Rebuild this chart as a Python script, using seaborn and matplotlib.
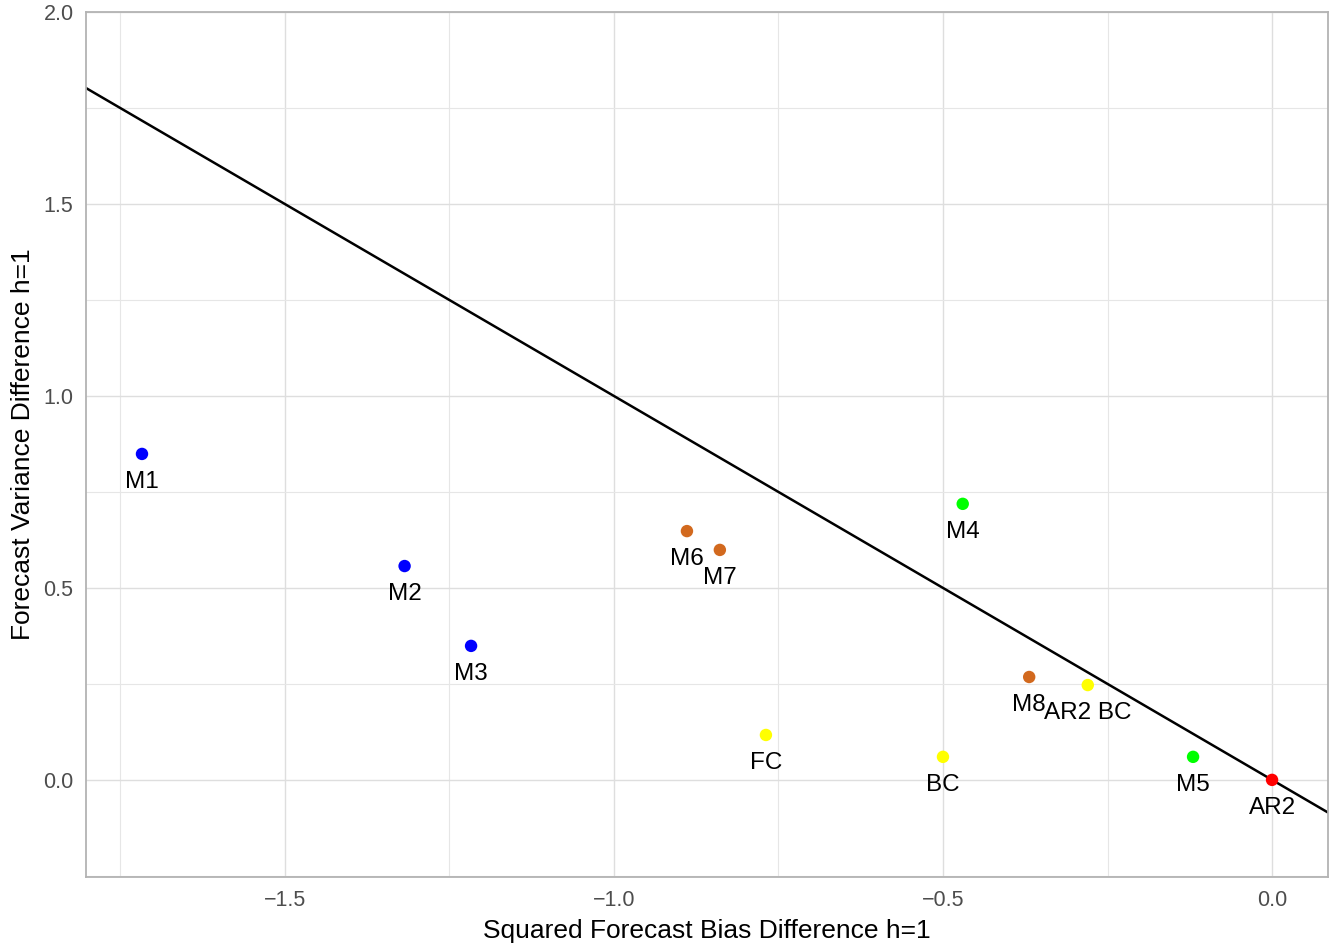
import matplotlib
matplotlib.use("Agg")
import matplotlib.pyplot as plt
import seaborn as sns
import numpy as np
import pandas as pd
from matplotlib.ticker import MultipleLocator

# data
models = ["M1", "M2", "M3", "M6", "M7", "FC", "BC", "M4", "M8", "AR2 BC", "M5", "AR2"]
bias_diff = [-1.717, -1.318, -1.217, -0.889, -0.839, -0.769, -0.500, -0.470, -0.369, -0.280, -0.120, 0.0]
var_diff = [0.849, 0.557, 0.349, 0.648, 0.599, 0.117, 0.060, 0.719, 0.268, 0.247, 0.060, 0.0]
group = ["a", "a", "a", "b", "b", "c", "c", "d", "b", "c", "d", "e"]
group_colors = {"a": "#0000FF", "b": "#D2691E", "c": "#FFFF00", "d": "#00FF00", "e": "#FF0000"}

df = pd.DataFrame({"model": models, "x": bias_diff, "y": var_diff, "group": group})

sns.set_style("white")
plt.rcParams["font.family"] = ["Liberation Sans", "DejaVu Sans"]

fig = plt.figure(figsize=(13.34, 9.47), dpi=100)
ax = fig.add_axes([0.0645, 0.0739, 0.9955 - 0.0645, 0.9873 - 0.0739])

xlim = (-1.802, 0.085)
ylim = (-0.253, 2.0)
ax.set_xlim(xlim)
ax.set_ylim(ylim)

# grid like theme_light
ax.xaxis.set_major_locator(MultipleLocator(0.5))
ax.xaxis.set_minor_locator(MultipleLocator(0.25))
ax.yaxis.set_major_locator(MultipleLocator(0.5))
ax.yaxis.set_minor_locator(MultipleLocator(0.25))
ax.grid(which="major", color="#DEDEDE", linewidth=1.0)
ax.grid(which="minor", color="#E6E6E6", linewidth=0.8)
ax.set_axisbelow(True)

# y = -x reference line
xs = np.array(xlim)
ax.plot(xs, -xs, color="black", linewidth=1.8, zorder=2)

sns.scatterplot(data=df, x="x", y="y", hue="group", palette=group_colors,
                s=80, edgecolor="none", legend=False, ax=ax, zorder=3)

for _, r in df.iterrows():
    ax.annotate(r["model"], (r["x"], r["y"]), xytext=(0, -20), textcoords="offset points",
                ha="center", va="center", fontsize=17.5, color="black")

for sp in ax.spines.values():
    sp.set_color("#B3B3B3")
    sp.set_linewidth(1.3)

fmt = matplotlib.ticker.FuncFormatter(lambda v, p: f"{v:.1f}".replace("-", "\u2212"))
ax.xaxis.set_major_formatter(fmt)
ax.yaxis.set_major_formatter(fmt)
ax.tick_params(which="major", length=4, width=1, color="#B3B3B3",
               labelsize=15.5, labelcolor="#4D4D4D", pad=5)
ax.tick_params(which="minor", length=0)

ax.set_xlabel("Squared Forecast Bias Difference h=1", fontsize=19, labelpad=6, color="black")
ax.set_ylabel("Forecast Variance Difference h=1", fontsize=19, labelpad=6, color="black")

fig.savefig("out.png", dpi=100)
